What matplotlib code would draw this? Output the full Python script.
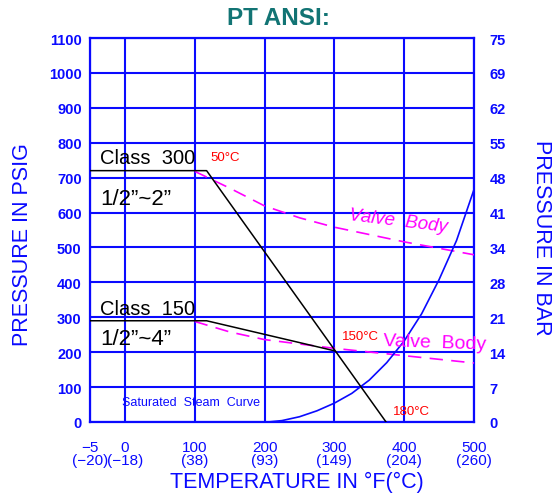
import matplotlib
matplotlib.use("Agg")
from matplotlib import pyplot as plt

# values (temperature in degF, pressure in psig)
x_ticks = [-50, 0, 100, 200, 300, 400, 500]
x_labels = ["\u22125\n(\u221220)", "0\n(\u221218)", "100\n(38)", "200\n(93)",
            "300\n(149)", "400\n(204)", "500\n(260)"]
psi_ticks = [0, 100, 200, 300, 400, 500, 600, 700, 800, 900, 1000, 1100]
bar_labels = ["0", "7", "14", "21", "28", "34", "41", "48", "55", "62", "69", "75"]

class300_t = [-50, 117, 374]
class300_p = [720, 720, 0]
class150_t = [-50, 117, 300]
class150_p = [290, 290, 204]

body300_t = [100, 150, 200, 250, 300, 400, 500]
body300_p = [718, 670, 619, 585, 558, 516, 479]
body150_t = [100, 150, 200, 300, 400, 500]
body150_p = [288, 258, 236, 211, 190, 169]

steam_t = [205, 225, 250, 275, 300, 325, 350, 375, 400, 425, 450, 475, 500]
steam_p = [0, 4, 15, 32, 54, 82, 120, 170, 232, 310, 408, 520, 666]

blue = "#0a0aff"
fam = ["Liberation Sans", "DejaVu Sans"]
plt.rcParams["font.family"] = fam

fig = plt.figure(figsize=(5.57, 5.02), dpi=100)
ax = fig.add_axes([0.1616, 0.1574, 0.6894, 0.7649])

ax.plot(class300_t, class300_p, color="black", lw=1.1, zorder=4)
ax.plot(class150_t, class150_p, color="black", lw=1.1, zorder=4)
ax.plot(body300_t, body300_p, color="#ff00ff", lw=1.2, dashes=(8, 5), zorder=3)
ax.plot(body150_t, body150_p, color="#ff00ff", lw=1.2, dashes=(8, 5), zorder=3)
ax.plot(steam_t, steam_p, color=blue, lw=1.2, zorder=3)

ax.set_xlim(-50, 500)
ax.set_ylim(0, 1100)
ax.set_xticks(x_ticks)
ax.set_xticklabels(x_labels, fontsize=11, color=blue, linespacing=0.95)
ax.set_yticks(psi_ticks)
ax.set_yticklabels([str(v) for v in psi_ticks], fontsize=10.5,
                   fontweight="bold", color=blue)
ax.tick_params(axis="both", length=0)
ax.tick_params(axis="x", pad=13)
ax.tick_params(axis="y", pad=6)
ax.grid(True, color=blue, lw=1.5, zorder=1)
for s in ax.spines.values():
    s.set_color(blue)
    s.set_linewidth(1.6)

ax2 = ax.twinx()
ax2.set_ylim(0, 1100)
ax2.set_yticks(psi_ticks)
ax2.set_yticklabels(bar_labels, fontsize=10.5, fontweight="bold", color=blue)
ax2.tick_params(axis="y", length=0, pad=11)
for s in ax2.spines.values():
    s.set_visible(False)

fig.text(0.0395, 0.512, "PRESSURE IN PSIG", rotation=90, ha="center", va="center",
         fontsize=15.5, color=blue)
fig.text(0.973, 0.526, "PRESSURE IN BAR", rotation=-90, ha="center", va="center",
         fontsize=15.5, color=blue)
fig.text(0.533, 0.038, "TEMPERATURE IN \u00b0F(\u00b0C)", ha="center", va="center",
         fontsize=15.5, color=blue)
fig.text(0.5, 0.963, "PT ANSI:", ha="center", va="center", fontsize=17.5,
         fontweight="bold", color="#127474")

ax.text(-36, 759, "Class  300", va="center", fontsize=14.5, color="black")
ax.text(-36, 639, "1/2\u201d~2\u201d", va="center", fontsize=16, color="black")
ax.text(-36, 324, "Class  150", va="center", fontsize=14.5, color="black")
ax.text(-36, 238, "1/2\u201d~4\u201d", va="center", fontsize=16, color="black")

ax.text(123, 759, "50\u00b0C", va="center", fontsize=9.5, color="red")
ax.text(311, 246, "150\u00b0C", va="center", fontsize=9.5, color="red")
ax.text(384, 32, "180\u00b0C", va="center", fontsize=9.5, color="red")

ax.text(391, 576, "Valve  Body", ha="center", va="center", color="#ff00ff",
        fontsize=13.5, style="italic", rotation=-7)
ax.text(444, 229, "Valve  Body", ha="center", va="center", color="#ff00ff",
        fontsize=14, rotation=-2)
ax.text(-4, 57, "Saturated  Steam  Curve", va="center", color=blue, fontsize=9)

fig.savefig("out.png", dpi=100)
